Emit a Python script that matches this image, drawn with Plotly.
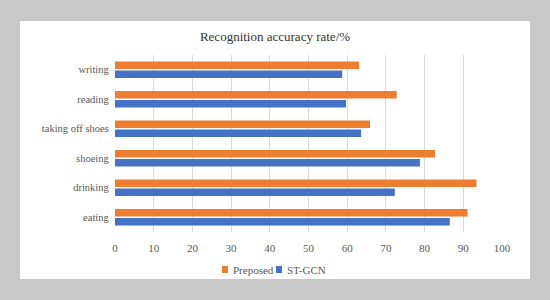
import plotly.graph_objects as go

categories = ["eating", "drinking", "shoeing", "taking off shoes", "reading", "writing"]
proposed = [91.1, 93.4, 82.7, 65.9, 72.8, 63.1]
st_gcn = [86.5, 72.3, 78.8, 63.6, 59.7, 58.7]
x_ticks = [0, 10, 20, 30, 40, 50, 60, 70, 80, 90, 100]
series_names = ["Preposed", "ST-GCN"]
series_colors = ["#ED7D31", "#4472C4"]

FONT = "'Liberation Serif', 'Times New Roman', 'DejaVu Serif', serif"

fig = go.Figure()
fig.add_trace(go.Bar(y=categories, x=st_gcn, orientation="h", name=series_names[1],
                     marker=dict(color=series_colors[1], line=dict(width=0)), showlegend=False))
fig.add_trace(go.Bar(y=categories, x=proposed, orientation="h", name=series_names[0],
                     marker=dict(color=series_colors[0], line=dict(width=0)), showlegend=False))

L, R, T, B = 115, 48, 55, 68
pw, ph = 550 - L - R, 300 - T - B


def px_x(p):
    return (p - L) / pw


def px_y(p):
    return (300 - B - p) / ph


shapes = [dict(type="rect", xref="paper", yref="paper", layer="below",
               x0=px_x(20), x1=px_x(530), y0=px_y(279), y1=px_y(21),
               fillcolor="white", line=dict(width=0))]
annotations = []
# legend (custom, compact like the reference)
leg_x = [222, 276]
for name, color, lx in zip(series_names, series_colors, leg_x):
    shapes.append(dict(type="rect", xref="paper", yref="paper",
                       x0=px_x(lx), x1=px_x(lx + 6), y0=px_y(273), y1=px_y(266),
                       fillcolor=color, line=dict(width=0)))
    annotations.append(dict(text=name, xref="paper", yref="paper", x=px_x(lx + 9),
                            y=px_y(269.5), xanchor="left", yanchor="middle", showarrow=False,
                            font=dict(family=FONT, size=11, color="#595959")))

fig.update_layout(
    width=550, height=300,
    margin=dict(l=L, r=R, t=T, b=B, autoexpand=False),
    paper_bgcolor="#c9c9c9", plot_bgcolor="rgba(0,0,0,0)",
    barmode="group", bargap=0.38, bargroupgap=0.18,
    font=dict(family=FONT, size=11, color="#595959"),
    title=dict(text="Recognition accuracy rate/%", x=275 / 550, xanchor="center",
               y=1 - 36 / 300, yanchor="middle", font=dict(family=FONT, size=13, color="#333333")),
    xaxis=dict(range=[0, 100], tickvals=x_ticks, showgrid=True, gridcolor="#d9d9d9",
               gridwidth=1, zeroline=False, showline=False, ticks="outside", ticklen=6,
               tickcolor="rgba(0,0,0,0)", tickfont=dict(size=11), automargin=False),
    yaxis=dict(categoryorder="array", categoryarray=categories, showgrid=False,
               zeroline=False, showline=False, ticks="", ticksuffix="  ", automargin=False,
               tickfont=dict(size=10.5)),
    shapes=shapes, annotations=annotations,
    showlegend=False,
)
fig.write_html("out.html", config={"displayModeBar": False},
               post_script="document.body.style.margin='0';document.body.style.background='#c9c9c9';")
